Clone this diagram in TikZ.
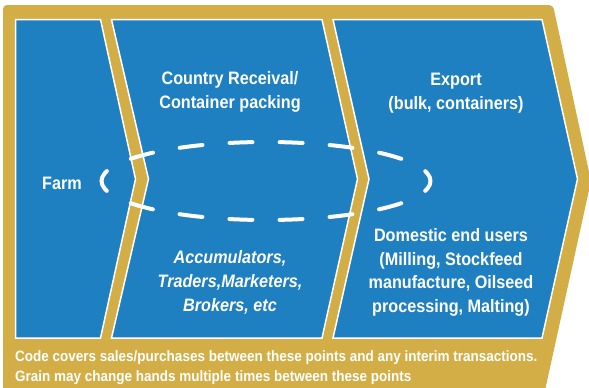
\documentclass[tikz,border=0pt]{standalone}
\usepackage{fontspec}
\setmainfont[FakeStretch=0.9]{Liberation Sans}
\definecolor{gold}{HTML}{D3AE47}
\definecolor{panelblue}{HTML}{1E7FC1}
\begin{document}
\begin{tikzpicture}[x=1pt,y=-1pt,
  panel/.style={fill=panelblue, draw=white, line width=1.5pt, line join=miter},
  lbl/.style={text=white, font=\bfseries\fontsize{18}{23.5}\selectfont, align=center, inner sep=0pt, anchor=base},
  note/.style={text=white, font=\bfseries\fontsize{15}{19.5}\selectfont, align=left, inner sep=0pt, anchor=base west},
  ring/.style={draw=white, line width=4pt, line cap=round, dash pattern=on 23pt off 27.12pt, dash phase=11.5pt}]
\useasboundingbox (0,0) rectangle (589,388);
% gold frame
\fill[gold, rounded corners=4pt] (3,5) -- (553,5) -- (591,181) -- (544,395) -- (3,395) -- cycle;
% panels
\path[panel] (15.5,19.5) -- (100.5,19.5) -- (135.5,179) -- (100.5,338) -- (15.5,338) -- cycle;
\path[panel] (111.5,19.5) -- (322,19.5) -- (357.5,179) -- (322,338) -- (111.5,338) -- (148.5,179) -- cycle;
\path[panel] (333,19.5) -- (542,19.5) -- (577.5,179) -- (542,338) -- (333,338) -- (369,179) -- cycle;
% texts (base anchor = baseline of the last line)
\node[lbl] (farm) at (62,189) {Farm};
\node[lbl] (country) at (230,108) {Country Receival/\\Container packing};
\node[lbl] (export) at (456,109) {Export\\(bulk, containers)};
\node[lbl, font=\bfseries\itshape\fontsize{18}{24}\selectfont] (accum) at (230,311) {Accumulators,\\Traders,Marketers,\\Brokers, etc};
\node[lbl] (domestic) at (451,312) {Domestic end users\\(Milling, Stockfeed\\manufacture, Oilseed\\processing, Malting)};
\node[note] (code) at (15,381) {Code covers sales/purchases between these points and any interim transactions.\\Grain may change hands multiple times between these points};
% dashed ring
\path[ring] (266,181) ellipse [x radius=164.5, y radius=39];
\end{tikzpicture}
\end{document}
